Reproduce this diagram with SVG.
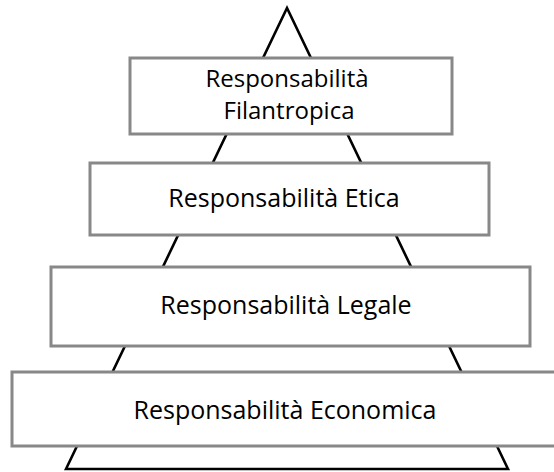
<svg xmlns="http://www.w3.org/2000/svg" width="554" height="472" viewBox="0 0 554 472">
<style>
.box{fill:#fff;stroke:#888;stroke-width:3}
.lbl{font-family:"Open Sans","Noto Sans",sans-serif;font-size:25px;fill:#000;text-anchor:middle}
.sm{font-size:24px}
.edge{fill:none;stroke:#000;stroke-width:2.6;stroke-linejoin:miter}
</style>
<rect width="554" height="472" fill="#fff"/>
<g id="connectors">
<path class="edge" d="M66 469 L287 8 L508 469 Z"/>
</g>
<g id="filantropica">
<rect class="box" x="130" y="58" width="322" height="76"/>
<text class="lbl sm" x="287" y="87">Responsabilità</text>
<text class="lbl sm" x="289" y="119">Filantropica</text>
</g>
<g id="etica">
<rect class="box" x="90" y="163" width="399" height="72"/>
<text class="lbl" x="284" y="207">Responsabilità Etica</text>
</g>
<g id="legale">
<rect class="box" x="51" y="267" width="479" height="79"/>
<text class="lbl" x="286" y="314">Responsabilità Legale</text>
</g>
<g id="economica">
<rect class="box" x="12" y="372" width="546" height="74"/>
<text class="lbl" x="285" y="419">Responsabilità Economica</text>
</g>
</svg>
